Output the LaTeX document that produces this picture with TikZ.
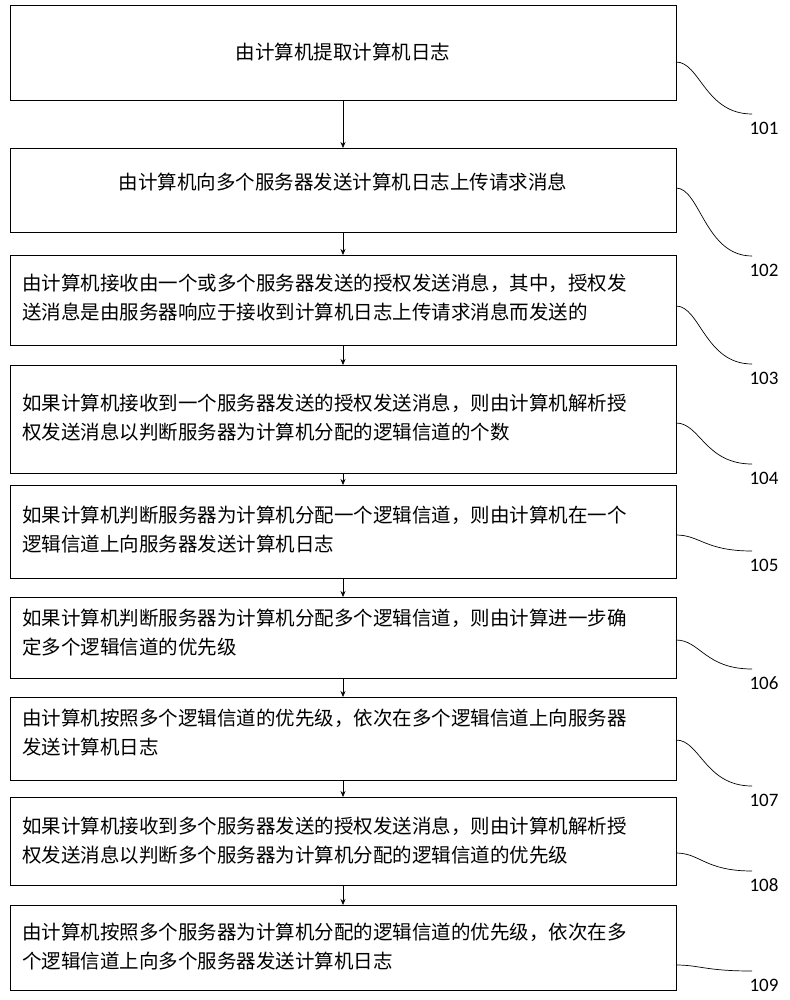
\documentclass[tikz,border=0pt]{standalone}
\usepackage{fontspec}
\newfontfamily\cjk{Noto Sans CJK SC}
\newfontfamily\numf{Carlito}
\usetikzlibrary{arrows.meta}
\begin{document}
\begin{tikzpicture}[x=1pt,y=-1pt,
  box/.style={draw,line width=0.8pt},
  txt/.style={font=\cjk\fontsize{19.5}{29}\selectfont,align=left,inner sep=0},
  lab/.style={font=\numf\fontsize{19}{20}\selectfont,inner sep=0},
  arr/.style={-{Stealth[length=6pt,width=5pt]},line width=0.6pt},
  cur/.style={line width=0.7pt}]
\useasboundingbox (0,0) rectangle (789,1000);
\def\boxes{1/5/100,2/148/232,3/255/345,4/365/473,5/485/578,6/597/678,7/697/780,8/797/885,9/905/990}
\foreach \i/\a/\b in \boxes {
  \draw[box] (10,\a) rectangle (676,\b);
  \coordinate (t\i) at (343,\a);
  \coordinate (b\i) at (343,\b);
}
\node[txt] (x1) at (343,52) {由计算机提取计算机日志};
\node[txt] (x2) at (343,182) {由计算机向多个服务器发送计算机日志上传请求消息};
\node[txt,anchor=west] (x3) at (22,298) {由计算机接收由一个或多个服务器发送的授权发送消息，其中，授权发\\送消息是由服务器响应于接收到计算机日志上传请求消息而发送的};
\node[txt,anchor=west] (x4) at (22,418) {如果计算机接收到一个服务器发送的授权发送消息，则由计算机解析授\\权发送消息以判断服务器为计算机分配的逻辑信道的个数};
\node[txt,anchor=west] (x5) at (22,530) {如果计算机判断服务器为计算机分配一个逻辑信道，则由计算机在一个\\逻辑信道上向服务器发送计算机日志};
\node[txt,anchor=west] (x6) at (22,633) {如果计算机判断服务器为计算机分配多个逻辑信道，则由计算进一步确\\定多个逻辑信道的优先级};
\node[txt,anchor=west] (x7) at (22,733) {由计算机按照多个逻辑信道的优先级，依次在多个逻辑信道上向服务器\\发送计算机日志};
\node[txt,anchor=west] (x8) at (22,841) {如果计算机接收到多个服务器发送的授权发送消息，则由计算机解析授\\权发送消息以判断多个服务器为计算机分配的逻辑信道的优先级};
\node[txt,anchor=west] (x9) at (22,947) {由计算机按照多个服务器为计算机分配的逻辑信道的优先级，依次在多\\个逻辑信道上向多个服务器发送计算机日志};
\foreach \i/\j in {1/2,2/3,3/4,4/5,5/6,6/7,7/8,8/9} \draw[arr] (b\i) -- (t\j);
\foreach \n/\sy/\ly in {101/62/128,102/188/270,103/306/378,104/423/478,105/535/565,106/640/683,107/740/800,108/853/885,109/965/985} {
  \node[lab] (l\n) at (764,\ly) {\n};
  \coordinate (s\n) at (676,\sy);
  \draw[cur] (s\n) .. controls (700,\sy) and (705,\ly-14) .. (752,\ly-14);
}
\end{tikzpicture}
\end{document}
